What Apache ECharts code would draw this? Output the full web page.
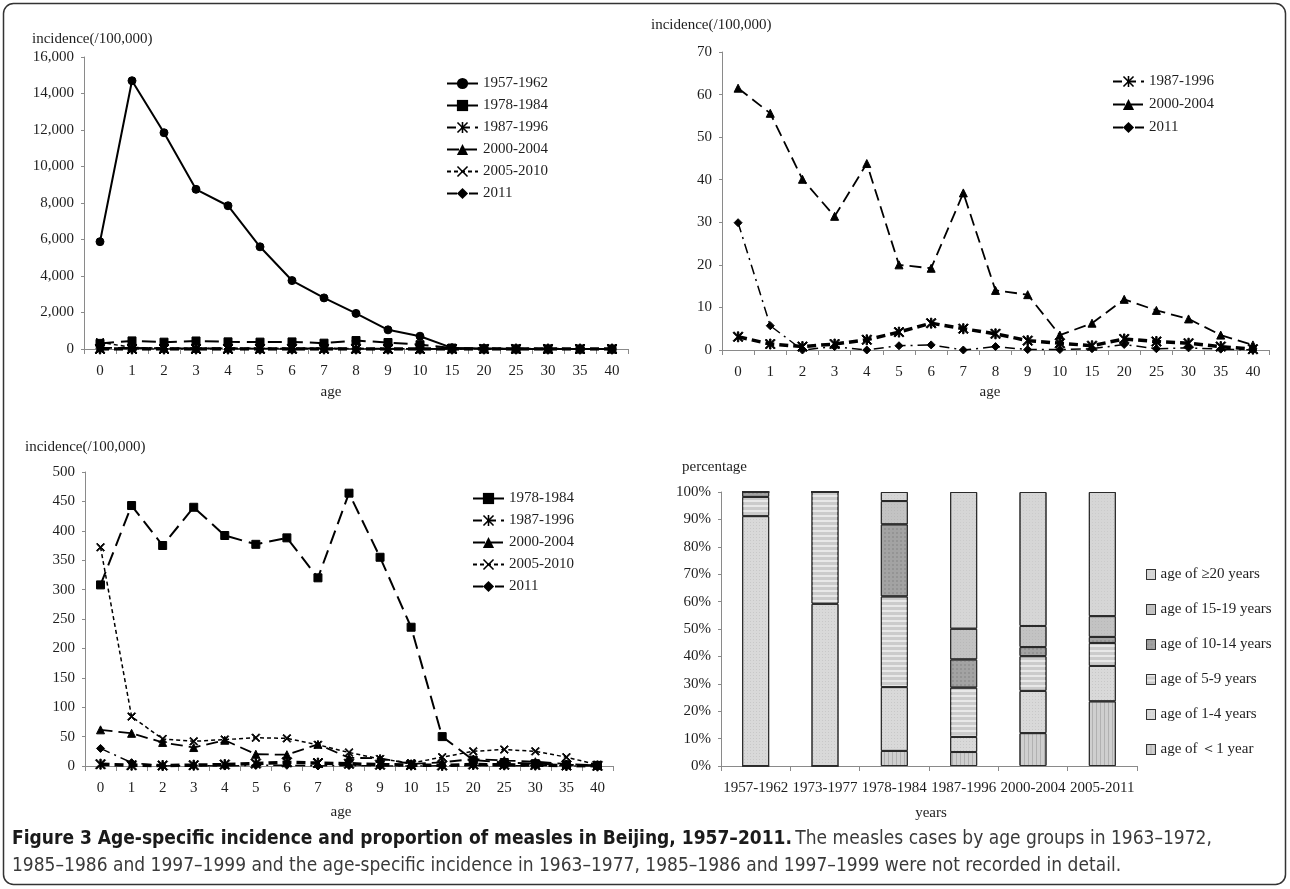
<!DOCTYPE html>
<html>
<head>
<meta charset="utf-8">
<script src="https://cdn.jsdelivr.net/npm/echarts@6/dist/echarts.min.js"></script>
<style>
html,body{margin:0;padding:0;background:#fff;}
#c{width:1290px;height:889px;}
</style>
</head>
<body>
<div id="c"></div>
<script>
// ---------- data ----------
const ages = ['0','1','2','3','4','5','6','7','8','9','10','15','20','25','30','35','40'];
const inc1957 = [5880,14700,11850,8750,7850,5600,3750,2800,1950,1050,700,60,30,0,0,0,0];
const inc1978 = [308,443,375,440,392,377,388,320,464,355,236,50,10,6,4,2,1];
const inc1987 = [3.1,1.4,0.8,1.4,2.4,4.2,6.3,5.0,3.8,2.2,1.6,1.0,2.6,2.0,1.6,0.8,0.2];
const inc2000 = [61.5,55.6,40.1,31.4,43.8,20.0,19.2,36.9,14.0,13.0,3.5,6.3,11.9,9.3,7.3,3.5,1.2];
const inc2005 = [372,84,46,42,45,48,47,36,23,12,5,15,25,28,25,15,2];
const inc2011 = [29.9,5.7,0,0.8,0,1.0,1.2,0,0.8,0.1,0.1,0.3,1.3,0.3,0.5,0.2,0];

const periods = ['1957-1962','1973-1977','1978-1984','1987-1996','2000-2004','2005-2011'];
const pctLt1   = [0, 0, 5.5, 5.1, 12.0, 23.6];
const pct1to4  = [91.2, 59.2, 23.3, 5.5, 15.4, 12.9];
const pct5to9  = [7.0, 40.8, 33.1, 18.0, 12.7, 8.4];
const pct10to14= [1.8, 0, 26.3, 10.3, 3.3, 2.2];
const pct15to19= [0, 0, 8.5, 11.2, 7.7, 7.6];
const pctGe20  = [0, 0, 3.3, 49.9, 48.9, 45.3];

// ---------- styles ----------
const SERIF = 'Liberation Serif';
const TXT = '#1e1e1e';
const ASTER = 'path://M0,1 L1,0 L5,4 L9,0 L10,1 L6,5 L10,9 L9,10 L5,6 L1,10 L0,9 L4,5 Z M4.3,0 L5.7,0 L5.7,10 L4.3,10 Z';
const XMARK = 'path://M0,1 L1,0 L5,4 L9,0 L10,1 L6,5 L10,9 L9,10 L5,6 L1,10 L0,9 L4,5 Z';

const lineDefs = {
  '1957-1962': {data: inc1957, type: 'solid', width: 2, symbol: 'circle', size: 8},
  '1978-1984': {data: inc1978, type: [14,7], width: 2, symbol: 'rect', size: 8},
  '1987-1996': {data: inc1987, type: [9,5], width: 3.5, symbol: ASTER, size: 10},
  '2000-2004': {data: inc2000, type: [12,6], width: 1.8, symbol: 'triangle', size: 8},
  '2005-2010': {data: inc2005, type: [4,3], width: 1.5, symbol: XMARK, size: 8},
  '2011':      {data: inc2011, type: [10,5,2,5], width: 1.5, symbol: 'diamond', size: 8}
};

function lineSeries(name, idx) {
  const d = lineDefs[name];
  return {
    name: name, type: 'line', xAxisIndex: idx, yAxisIndex: idx,
    data: d.data, symbol: d.symbol, symbolSize: d.size, showAllSymbol: true,
    lineStyle: {color: '#000', width: d.width, type: d.type},
    itemStyle: {color: '#000', borderColor: '#000'},
    emphasis: {disabled: true}, z: 3
  };
}

const grids = [
  {left: 84, top: 57, width: 544, height: 292},
  {left: 722, top: 52, width: 547, height: 298},
  {left: 85, top: 472, width: 528, height: 294},
  {left: 721, top: 492, width: 416, height: 274}
];

function xCat(idx, data) {
  return {
    type: 'category', gridIndex: idx, data: data, boundaryGap: true,
    axisLine: {lineStyle: {color: '#8a8a8a', width: 1}},
    axisTick: {show: true, length: 5, interval: 0, lineStyle: {color: '#8a8a8a'}},
    axisLabel: {interval: 0, margin: 15, fontFamily: SERIF, fontSize: 15, color: TXT},
    splitLine: {show: false}
  };
}
function yVal(idx, max, interval, fmt) {
  return {
    type: 'value', gridIndex: idx, min: 0, max: max, interval: interval,
    axisLine: {show: true, lineStyle: {color: '#8a8a8a', width: 1}},
    axisTick: {show: true, length: 3, lineStyle: {color: '#8a8a8a'}},
    axisLabel: {margin: 10, fontFamily: SERIF, fontSize: 15, color: TXT, formatter: fmt},
    splitLine: {show: false}
  };
}
const commaFmt = v => String(v).replace(/\B(?=(\d{3})+(?!\d))/g, ',');

function legendLine(names, left, top, gap) {
  return {
    data: names, orient: 'vertical', left: left, top: top, padding: 0,
    itemWidth: 31, itemHeight: 14, itemGap: gap, selectedMode: false,
    textStyle: {fontFamily: SERIF, fontSize: 15, color: TXT, lineHeight: 14}
  };
}

const barNames = ['age of ＜1 year','age of 1-4 years','age of 5-9 years','age of 10-14 years','age of 15-19 years','age of ≥20 years'];
const barData = [pctLt1, pct1to4, pct5to9, pct10to14, pct15to19, pctGe20];
const barColors = ['#cfcfcf','#d9d9d9','#cbcbcb','#a3a3a3','#c3c3c3','#d6d6d6'];
const barDecals = [
  {symbol: 'rect', symbolSize: 1, color: 'rgba(120,120,120,0.35)', dashArrayX: [[1,3]], dashArrayY: [1,0], rotation: 0},
  {symbol: 'rect', symbolSize: 1, color: 'rgba(150,150,150,0.25)', dashArrayX: [1,2], dashArrayY: [1,2]},
  {symbol: 'rect', symbolSize: 1, color: 'rgba(255,255,255,0.55)', dashArrayX: [1,0], dashArrayY: [2,3]},
  {symbol: 'rect', symbolSize: 1, color: 'rgba(120,120,120,0.35)', dashArrayX: [2,2], dashArrayY: [2,2]},
  {symbol: 'rect', symbolSize: 1, color: 'rgba(150,150,150,0.25)', dashArrayX: [1,2], dashArrayY: [1,2]},
  {symbol: 'rect', symbolSize: 1, color: 'rgba(170,170,170,0.25)', dashArrayX: [1,2], dashArrayY: [1,2]}
];

const barSeries = barNames.map((n, i) => ({
  name: n, type: 'bar', stack: 'pct', xAxisIndex: 3, yAxisIndex: 3,
  data: barData[i], barWidth: 27,
  itemStyle: {color: barColors[i], borderColor: '#2a2a2a', borderWidth: 1, decal: barDecals[i]},
  emphasis: {disabled: true}
}));

const series = [];
['1957-1962','1978-1984','1987-1996','2000-2004','2005-2010','2011'].forEach(n => series.push(lineSeries(n, 0)));
['1987-1996','2000-2004','2011'].forEach(n => series.push(lineSeries(n, 1)));
['1978-1984','1987-1996','2000-2004','2005-2010','2011'].forEach(n => series.push(lineSeries(n, 2)));
barSeries.forEach(s => series.push(s));

const option = {
  animation: false,
  backgroundColor: '#fff',
  grid: grids,
  xAxis: [xCat(0, ages), xCat(1, ages), xCat(2, ages), xCat(3, periods)],
  yAxis: [
    yVal(0, 16000, 2000, commaFmt),
    yVal(1, 70, 10),
    yVal(2, 500, 50),
    yVal(3, 100, 10, '{value}%')
  ],
  legend: [
    legendLine(['1957-1962','1978-1984','1987-1996','2000-2004','2005-2010','2011'], 446, 76, 7),
    legendLine(['1987-1996','2000-2004','2011'], 1112, 74, 8),
    legendLine(['1978-1984','1987-1996','2000-2004','2005-2010','2011'], 472, 491, 7),
    {
      data: barNames.slice().reverse(), orient: 'vertical', left: 1146, top: 567, padding: 0,
      itemWidth: 9, itemHeight: 10, itemGap: 20, icon: 'rect', selectedMode: false,
      itemStyle: {borderColor: '#333', borderWidth: 1},
      textStyle: {fontFamily: SERIF, fontSize: 15, color: TXT, lineHeight: 10}
    }
  ],
  series: series,
  graphic: [
    {type: 'rect', shape: {x: 3.5, y: 3.5, width: 1282, height: 881, r: 10}, style: {fill: 'none', stroke: '#333', lineWidth: 1.5}, silent: true, z: 0},
    {type: 'text', x: 32, y: 39, style: {text: 'incidence(/100,000)', font: '15px "Liberation Serif"', fill: TXT, textVerticalAlign: 'middle'}},
    {type: 'text', x: 651, y: 25, style: {text: 'incidence(/100,000)', font: '15px "Liberation Serif"', fill: TXT, textVerticalAlign: 'middle'}},
    {type: 'text', x: 25, y: 447, style: {text: 'incidence(/100,000)', font: '15px "Liberation Serif"', fill: TXT, textVerticalAlign: 'middle'}},
    {type: 'text', x: 682, y: 467, style: {text: 'percentage', font: '15px "Liberation Serif"', fill: TXT, textVerticalAlign: 'middle'}},
    {type: 'text', x: 331, y: 392, style: {text: 'age', font: '15px "Liberation Serif"', fill: TXT, textAlign: 'center', textVerticalAlign: 'middle'}},
    {type: 'text', x: 990, y: 392, style: {text: 'age', font: '15px "Liberation Serif"', fill: TXT, textAlign: 'center', textVerticalAlign: 'middle'}},
    {type: 'text', x: 341, y: 812, style: {text: 'age', font: '15px "Liberation Serif"', fill: TXT, textAlign: 'center', textVerticalAlign: 'middle'}},
    {type: 'text', x: 931, y: 813, style: {text: 'years', font: '15px "Liberation Serif"', fill: TXT, textAlign: 'center', textVerticalAlign: 'middle'}},
    {type: 'text', x: 12, y: 826, style: {
      text: '{b|Figure 3 Age-specific incidence and proportion of measles in Beijing, 1957–2011.} {r|The measles cases by age groups in 1963–1972,}\n{r|1985–1986 and 1997–1999 and the age-specific incidence in 1963–1977, 1985–1986 and 1997–1999 were not recorded in detail.}',
      rich: {
        b: {fontFamily: 'Liberation Sans Narrow, DejaVu Sans Condensed, sans-serif', fontWeight: 'bold', fontSize: 19, fill: '#1a1a1a', lineHeight: 27},
        r: {fontFamily: 'Liberation Sans Narrow, DejaVu Sans Condensed, sans-serif', fontSize: 19, fill: '#3a3a3a', lineHeight: 27}
      }
    }}
  ]
};

const chart = echarts.init(document.getElementById('c'), null, {renderer: 'canvas'});
chart.setOption(option);
</script>
</body>
</html>
